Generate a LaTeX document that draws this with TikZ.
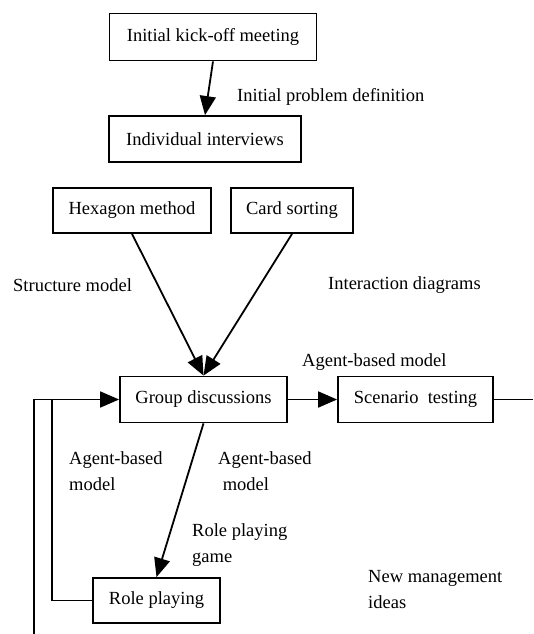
\documentclass[tikz,border=0pt]{standalone}
\usepackage{fontspec}
\setmainfont{Liberation Serif}
\usepackage{tikz}
\usetikzlibrary{positioning,calc,arrows,arrows.meta}
\tikzstyle{line} = [draw,line width=1.8pt]
\tikzstyle{arrow} = [line,-{Triangle[length=19pt,width=16pt]}]
\tikzstyle{block} = [draw,line width=1.8pt,inner sep=0pt,font=\fontsize{18.5}{26}\selectfont]
\tikzstyle{note} = [anchor=west,align=left,inner sep=0pt,font=\fontsize{18.5}{26}\selectfont]

\begin{document}
\begin{tikzpicture}[x=1pt,y=-1pt]
                \useasboundingbox (0,0) rectangle (533,634);
                \node[block,minimum width=207pt,minimum height=47pt] (kickoff) at (213,37) {Initial kick-off meeting};
                \node[block,minimum width=192pt,minimum height=46pt] (interviews) at (205,139) {Individual interviews};
                \node[block,minimum width=158pt,minimum height=45pt] (hexagon) at (132,210.5) {Hexagon method};
                \node[block,minimum width=122pt,minimum height=45pt] (cards) at (292,210.5) {Card sorting};
                \node[block,minimum width=167pt,minimum height=46pt] (group) at (203.5,399.5) {Group discussions};
                \node[block,minimum width=155pt,minimum height=46pt] (scenario) at (415.5,399.5) {Scenario~ testing};
                \node[block,minimum width=127pt,minimum height=45pt] (roleplay) at (156.5,600.5) {Role playing};
                \coordinate (out) at (533,399.5);
                \coordinate (join) at (52,399.5);
                \coordinate (loopbot) at (34,634);
                \path [arrow] (kickoff.south) -- (interviews.north);
                \path [arrow] (hexagon.south) -- (group.north);
                \path [arrow] (cards.south) -- (group.north);
                \path [arrow] (group.east) -- (scenario.west);
                \path [line] (scenario.east) -- (out);
                \path [arrow] (group.south) -- (roleplay.north);
                \path [arrow] (roleplay.west) -| (join) -- (group.west);
                \path [line] (loopbot) |- (join);
                % labels
                \node[note] (problem) at (237,97) {Initial problem definition};
                \node[note] (structure) at (13,285) {Structure model};
                \node[note] (interaction) at (328,285) {Interaction diagrams};
                \node[note] (agent) at (302,362) {Agent-based model};
                \node[note] (agentleft) at (69,471.5) {Agent-based\\model};
                \node[note] (agentright) at (218,471.5) {Agent-based\\\ model};
                \node[note] (game) at (192,545) {Role playing\\game};
                \node[note] (ideas) at (368,589.5) {New management\\ideas};
            \end{tikzpicture}
\end{document}
